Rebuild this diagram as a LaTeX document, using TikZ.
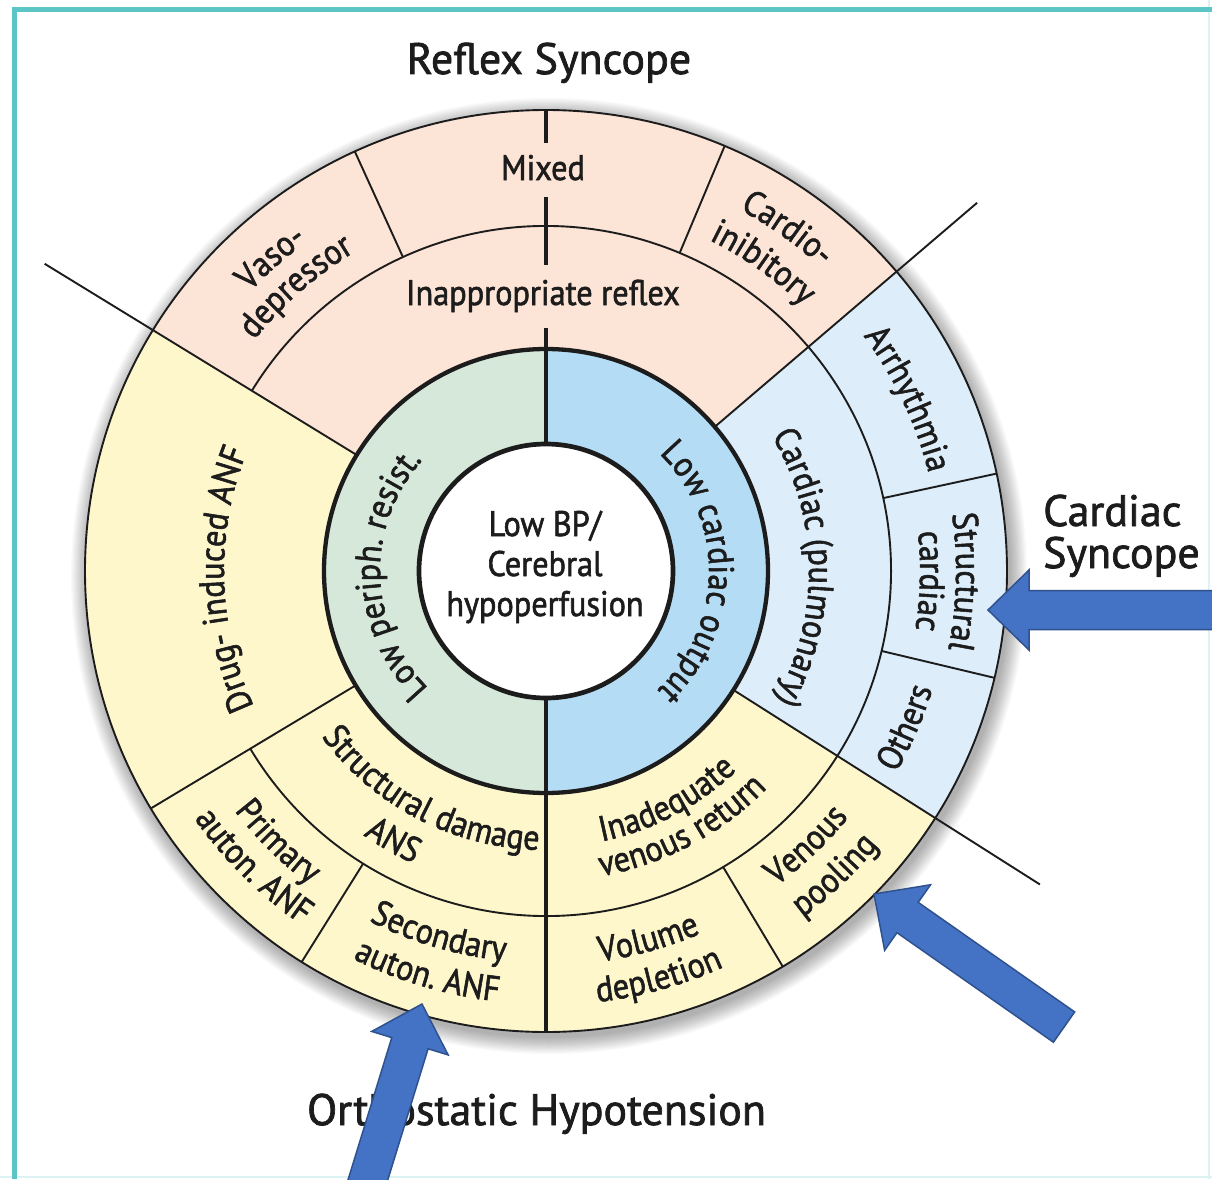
\documentclass[tikz,border=0pt]{standalone}
\usepackage{fontspec}
\setmainfont{PT Sans}[FakeStretch=0.91,FakeBold=1.6]
\newfontfamily\titlefont{PT Sans}[FakeBold=1.6]
\usetikzlibrary{decorations.text}

\definecolor{peach}{HTML}{FCE4D6}
\definecolor{cardblue}{HTML}{DDEEFA}
\definecolor{orthoyellow}{HTML}{FFF7CC}
\definecolor{ringgreen}{HTML}{D5E8DA}
\definecolor{ringblue}{HTML}{B4DDF5}
\definecolor{frameteal}{HTML}{5CC5C5}
\definecolor{framefaint}{HTML}{DDF3F3}
\definecolor{arrowblue}{HTML}{4472C4}
\definecolor{arrowedge}{HTML}{2F528F}
\definecolor{ink}{HTML}{1C1C1C}

\newcommand\lab{\fontsize{35.5}{40}\selectfont}
\newcommand\ttl{\titlefont\fontsize{44}{44}\selectfont}

\newcommand\cwlabel[3]{%
  \path[decorate,decoration={text along path,text align=center,text color=ink,text={|\lab|#3}}]
    ({#2+75}:#1) arc[start angle={#2+75},end angle={#2-75},radius=#1];}
\newcommand\ccwlabel[3]{%
  \path[decorate,decoration={text along path,text align=center,text color=ink,text={|\lab|#3}}]
    ({#2-75}:#1) arc[start angle={#2-75},end angle={#2+75},radius=#1];}

\begin{document}
\begin{tikzpicture}[x=1pt,y=1pt]
\tikzset{
 fine/.style={line width=1.9pt, draw=ink},
 heavy/.style={line width=4.3pt, draw=ink},
 divider/.style={line width=3.5pt, draw=ink},
 lbl/.style={font=\lab, text=ink, inner sep=0pt},
 ttlnode/.style={font=\ttl, text=ink, inner sep=0pt},
 blockarrow/.style={fill=arrowblue, draw=arrowedge, line width=1.5pt, line join=miter}
}
\useasboundingbox (-546,-608) rectangle (666,571);
\clip (-546,-608) rectangle (666,571);
\fill[white] (-546,-608) rectangle (666,571);
% frame
\draw[framefaint, line width=2.5pt] (663,571) -- (663,-608);
\draw[framefaint, line width=2.5pt] (-546,-606) -- (666,-606);
\draw[frameteal, line width=5pt] (-533,561) -- (666,561);
\draw[frameteal, line width=5pt] (-531,563.5) -- (-531,-608);
% soft shadow
\foreach \k in {0,...,13} \fill[black, opacity=0.022] (3,-5) circle ({478-1.25*\k});
% sectors
\fill[peach] (40.5:461) arc[start angle=40.5,end angle=148.5,radius=461] -- (148.5:222) arc[start angle=148.5,end angle=40.5,radius=222] -- cycle;
\fill[cardblue] (-32.4:461) arc[start angle=-32.4,end angle=40.5,radius=461] -- (40.5:222) arc[start angle=40.5,end angle=-32.4,radius=222] -- cycle;
\fill[orthoyellow] (148.5:461) arc[start angle=148.5,end angle=327.6,radius=461] -- (327.6:222) arc[start angle=327.6,end angle=148.5,radius=222] -- cycle;
\fill[ringgreen] (90:222) arc[start angle=90,end angle=270,radius=222] -- cycle;
\fill[ringblue] (-90:222) arc[start angle=-90,end angle=90,radius=222] -- cycle;
\fill[white] (0,0) circle (127);
% thin lines
\draw[fine] (0,0) circle (461);
\draw[fine] (-149:345) arc[start angle=-149,end angle=148.5,radius=345];
\foreach \a in {114.5,67.2,12.2,-13.4,238,-59.1} \draw[fine] (\a:345) -- (\a:461);
\draw[fine] (148.5:222) -- (148.5:588);
\draw[fine] (40.5:222) -- (40.5:567);
\draw[fine] (-32.4:222) -- (-32.4:585);
\draw[fine] (211:222) -- (211:461);
% vertical dividers
\draw[divider] (0,127) -- (0,243);
\draw[divider] (0,306) -- (0,374);
\draw[divider] (0,428) -- (0,461);
\draw[divider] (0,-127) -- (0,-461);
% heavy circles
\draw[heavy] (0,0) circle (222);
\draw[heavy, line width=4.7pt] (0,0) circle (127);
% straight labels
\node[lbl, align=center] (centre) at (-1,4) {Low BP/\\Cerebral\\hypoperfusion};
\node[lbl, anchor=base] (mixed) at (-3,391) {Mixed};
\node[lbl, anchor=base] (inapp) at (-3,266) {Inappropriate reflex};
% curved labels
\cwlabel{407}{131.3}{Vaso-}
\cwlabel{372}{131.3}{depressor}
\cwlabel{410}{54.8}{Cardio-}
\cwlabel{369}{54.8}{inibitory}
\cwlabel{395}{25.4}{Arrhythmia}
\cwlabel{410}{-1.5}{Structural}
\cwlabel{374}{-1.5}{cardiac}
\cwlabel{263}{0.8}{Cardiac (pulmonary)}
\cwlabel{163}{-0.5}{Low cardiac output}
\cwlabel{166}{181.5}{Low periph. resist.}
\cwlabel{322}{181.5}{Drug- induced ANF}
\ccwlabel{404}{-23.5}{Others}
\ccwlabel{276}{-62.3}{Inadequate}
\ccwlabel{310}{-62.1}{venous return}
\ccwlabel{394}{-74.5}{Volume}
\ccwlabel{434}{-74.5}{depletion}
\ccwlabel{390}{-46.5}{Venous}
\ccwlabel{431}{-46.5}{pooling}
\ccwlabel{392}{253.6}{Secondary}
\ccwlabel{433}{253.6}{auton. ANF}
\ccwlabel{393}{225.3}{Primary}
\ccwlabel{430}{225.3}{auton. ANF}
\ccwlabel{279}{242.5}{Structural damage}
\ccwlabel{321}{240.5}{ANS}
% titles
\node[ttlnode, anchor=base] (reflex) at (3,497) {Reflex Syncope};
\node[ttlnode, anchor=base west] (cardiacA) at (497,45) {Cardiac};
\node[ttlnode, anchor=base west] (cardiacB) at (497,3) {Syncope};
\node[ttlnode, anchor=base] (ortho) at (-9.5,-554) {Orthostatic Hypotension};
% arrows
\coordinate (tipA) at (442,-39);
\coordinate (tipB) at (328,-323);
\coordinate (tipC) at (-124,-433);
\begin{scope}[shift={(tipA)}, rotate=180]
 \draw[blockarrow] (0,0) -- (-41,40) -- (-41,19.5) -- (-240,19.5) -- (-240,-19.5) -- (-41,-19.5) -- (-41,-40) -- cycle;
\end{scope}
\begin{scope}[shift={(tipB)}, rotate=145]
 \draw[blockarrow] (0,0) -- (-41,40) -- (-41,18.5) -- (-232,18.5) -- (-232,-18.5) -- (-41,-18.5) -- (-41,-40) -- cycle;
\end{scope}
\begin{scope}[shift={(tipC)}, rotate=72.9]
 \draw[blockarrow] (0,0) -- (-41,40) -- (-41,19) -- (-200,19) -- (-200,-19) -- (-41,-19) -- (-41,-40) -- cycle;
\end{scope}
\end{tikzpicture}
\end{document}
